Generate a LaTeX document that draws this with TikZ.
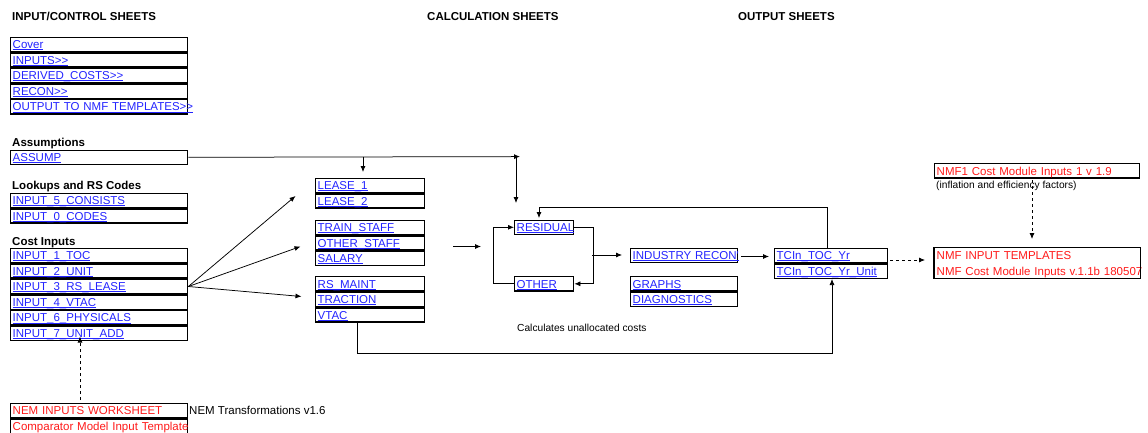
\documentclass[tikz,border=0pt]{standalone}
\usepackage{fontspec}
\setmainfont{Liberation Sans}[Ligatures=TeXOff]
\usetikzlibrary{arrows.meta}
\definecolor{lnkblue}{RGB}{35,35,255}
\definecolor{lnkred}{RGB}{255,25,25}
\newcommand\lk[1]{\setbox0\hbox{#1}\rlap{\rule[-1.4pt]{\wd0}{0.75pt}}\box0}
\tikzset{
  cell/.style={draw, line width=1.4pt, anchor=north west, inner xsep=2pt, inner ysep=0pt,
    minimum height=14.2pt, text height=9.8pt, text depth=1.4pt, align=left,
    font=\fontsize{11.5}{13}\selectfont},
  lnk/.style={cell, text=lnkblue},
  redcell/.style={cell, text=lnkred},
  head/.style={anchor=base west, inner sep=0pt, font=\bfseries\fontsize{11.5}{13}\selectfont},
  plain/.style={anchor=base west, inner sep=0pt, font=\fontsize{11.5}{13}\selectfont},
  note/.style={anchor=base west, inner sep=0pt, font=\fontsize{10.2}{12}\selectfont},
  arr/.style={-{Latex[length=6pt,width=5pt]}, line width=0.75pt},
  darr/.style={arr, dash pattern=on 3pt off 3pt},
}
\begin{document}
\begin{tikzpicture}[x=1pt,y=-1pt]
\useasboundingbox (0,0) rectangle (1148,432);
% headings
\node[head] (h1) at (12,20) {INPUT/CONTROL SHEETS};
\node[head] (h2) at (427,20) {CALCULATION SHEETS};
\node[head] (h3) at (738,20) {OUTPUT SHEETS};
% control sheets
\node[lnk, text width=173pt] (cover) at (10,36.5) {\lk{Cover}};
\node[lnk, text width=173pt] (inputs) at (cover.south west) {\lk{INPUTS>>}};
\node[lnk, text width=173pt] (derived) at (inputs.south west) {\lk{DERIVED\_COSTS>>}};
\node[lnk, text width=173pt] (recon) at (derived.south west) {\lk{RECON>>}};
\node[lnk, text width=173pt] (outnmf) at (recon.south west) {\lk{OUTPUT TO NMF TEMPLATES>>}};
% assumptions
\node[head] (hass) at (12,146) {Assumptions};
\node[lnk, text width=173pt] (assump) at (10,149.5) {\lk{ASSUMP}};
\node[head] (hlook) at (12,189) {Lookups and RS Codes};
\node[lnk, text width=173pt] (in5) at (10,192.5) {\lk{INPUT\_5\_CONSISTS}};
\node[lnk, text width=173pt] (in0) at (in5.south west) {\lk{INPUT\_0\_CODES}};
\node[head] (hcost) at (12,245) {Cost Inputs};
\node[lnk, text width=173pt] (in1) at (10,247.5) {\lk{INPUT\_1\_TOC}};
\node[lnk, text width=173pt] (in2) at (in1.south west) {\lk{INPUT\_2\_UNIT}};
\node[lnk, text width=173pt] (in3) at (in2.south west) {\lk{INPUT\_3\_RS\_LEASE}};
\node[lnk, text width=173pt] (in4) at (in3.south west) {\lk{INPUT\_4\_VTAC}};
\node[lnk, text width=173pt] (in6) at (in4.south west) {\lk{INPUT\_6\_PHYSICALS}};
\node[lnk, text width=173pt] (in7) at (in6.south west) {\lk{INPUT\_7\_UNIT\_ADD}};
% NEM
\node[redcell, text width=173pt] (nem) at (10,402.8) {NEM INPUTS WORKSHEET};
\node[redcell, text width=173pt] (comp) at (nem.south west) {\mbox{Comparator Model Input Template}};
\node[plain] (nemt) at (189,414.5) {NEM Transformations v1.6};
% calculation sheets
\node[lnk, text width=105pt] (lease1) at (315,177.5) {\lk{LEASE\_1}};
\node[lnk, text width=105pt] (lease2) at (lease1.south west) {\lk{LEASE\_2}};
\node[lnk, text width=105pt] (train) at (315,219.5) {\lk{TRAIN\_STAFF}};
\node[lnk, text width=105pt] (ostaff) at (train.south west) {\lk{OTHER\_STAFF}};
\node[lnk, text width=105pt] (salary) at (ostaff.south west) {\lk{SALARY}};
\node[lnk, text width=105pt] (rsm) at (315,276) {\lk{RS\_MAINT}};
\node[lnk, text width=105pt] (traction) at (rsm.south west) {\lk{TRACTION}};
\node[lnk, text width=105pt] (vtac) at (traction.south west) {\lk{VTAC}};
\node[lnk, text width=55pt] (residual) at (514,219.5) {\lk{RESIDUAL}};
\node[lnk, text width=55pt] (other) at (514,276) {\lk{OTHER}};
\node[note] (calc) at (517,331) {Calculates unallocated costs};
\node[lnk, text width=103pt] (indrec) at (630,247.5) {\lk{INDUSTRY RECON'}};
\node[lnk, text width=103pt] (graphs) at (630,276) {\lk{GRAPHS}};
\node[lnk, text width=103pt] (diag) at (graphs.south west) {\lk{DIAGNOSTICS}};
% output sheets
\node[lnk, text width=109pt] (tc1) at (774,247.7) {\lk{TCIn\_TOC\_Yr}};
\node[lnk, text width=109pt] (tc2) at (tc1.south west) {\lk{TCIn\_TOC\_Yr\_Unit}};
\node[redcell, text width=201pt] (nmf1) at (934,163) {\mbox{NMF1 Cost Module Inputs 1 v 1.9}};
\node[note] (infl) at (936,188) {(inflation and efficiency factors)};
\node[redcell, draw=none, text width=201pt] (nmft1) at (934,247.5) {\mbox{NMF INPUT TEMPLATES}};
\node[redcell, draw=none, text width=201pt] (nmft2) at (nmft1.south west) {\mbox{NMF Cost Module Inputs v.1.1b 180507}};
\draw[line width=1.4pt] (nmft1.north west) rectangle (nmft2.south east);
% connectors
\coordinate (aend) at (520,156.6);
\draw[arr] (assump.east) -- (aend);
\coordinate (j1) at (363,156.6); \coordinate (j1e) at (363,172);
\draw[arr] (j1) -- (j1e);
\coordinate (j2) at (516,156.6); \coordinate (j2e) at (516,203);
\draw[arr] (j2) -- (j2e);
\coordinate (f1) at (295.5,196); \coordinate (f2) at (300.5,246.5); \coordinate (f3) at (301.5,296.5);
\draw[arr] (in3.east) -- (f1);
\draw[arr] (in3.east) -- (f2);
\draw[arr] (in3.east) -- (f3);
\coordinate (s1) at (453,246.5); \coordinate (s1e) at (481,246.5);
\draw[arr] (s1) -- (s1e);
\draw[arr] (other.west) -- ++(-21,0) |- (residual.west);
\draw[arr] (residual.east) -- ++(19,0) |- (other.east);
\coordinate (r1) at (592,255); \coordinate (r1e) at (622,255);
\draw[arr] (r1) -- (r1e);
\coordinate (i1) at (741,256.5); \coordinate (i1e) at (769,256.5);
\draw[arr] (i1) -- (i1e);
\coordinate (t0) at (827,247.7); \coordinate (tl) at (539,207); \coordinate (te) at (539,218);
\draw[arr] (t0) |- (tl) -- (te);
\coordinate (v0) at (357,323); \coordinate (vb) at (357,353); \coordinate (ve) at (832,279);
\draw[arr] (v0) -- (vb) -| (ve);
\coordinate (d1) at (890,260); \coordinate (d1e) at (925,260);
\draw[darr] (d1) -- (d1e);
\coordinate (d2) at (1032,180); \coordinate (d2e) at (1032,239);
\draw[darr] (d2) -- (d2e);
\coordinate (d3) at (80,400); \coordinate (d3e) at (80,336.5);
\draw[darr] (d3) -- (d3e);
\end{tikzpicture}
\end{document}
